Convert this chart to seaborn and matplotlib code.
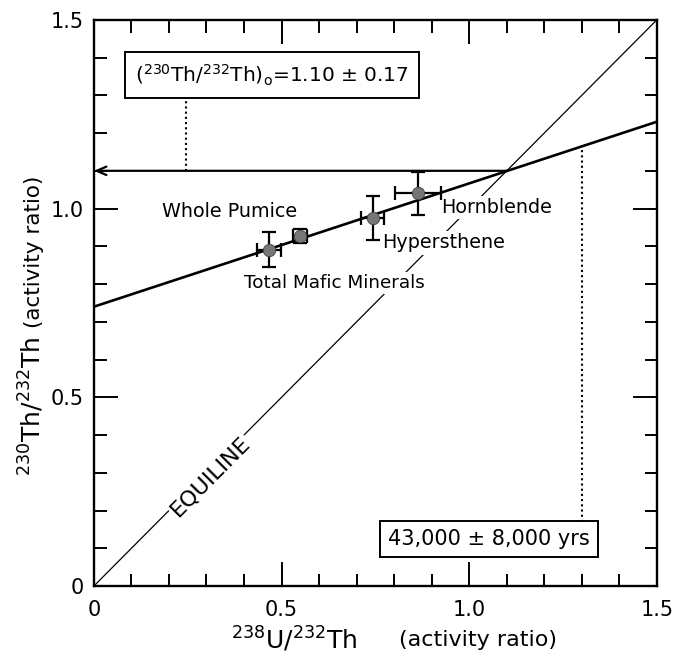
import matplotlib
matplotlib.use("Agg")
import matplotlib.pyplot as plt
import seaborn as sns
import numpy as np
import pandas as pd
from matplotlib.ticker import MultipleLocator, FixedLocator

# --- data -------------------------------------------------------------
samples = ["Total Mafic Minerals", "Whole Pumice", "Hypersthene", "Hornblende"]
u_th = [0.466, 0.549, 0.743, 0.863]          # 238U/232Th
th_th = [0.891, 0.928, 0.976, 1.040]         # 230Th/232Th
u_err = [0.032, 0.018, 0.030, 0.061]
th_err = [0.046, 0.018, 0.058, 0.058]

iso_x = [0.0, 1.5]                 # isochron end points
iso_y = [0.74, 1.23]
equi_x = [0.0, 1.5]                # equiline (230Th/232Th = 238U/232Th)
equi_y = [0.0, 1.5]

initial_ratio = 1.10
initial_err = 0.17
age_text = "43,000 ± 8,000 yrs"
age_x = 1.30

x_ticks = [0.0, 0.5, 1.0, 1.5]
x_ticklabels = ["0", "0.5", "1.0", "1.5"]
y_ticks = [0.0, 0.5, 1.0, 1.5]
y_ticklabels = ["0", "0.5", "1.0", "1.5"]

df = pd.DataFrame({"sample": samples, "u": u_th, "th": th_th,
                   "ue": u_err, "te": th_err})

# --- style --------------------------------------------------------------
sns.set_style("ticks")
plt.rcParams["font.family"] = ["DejaVu Sans"]
plt.rcParams["mathtext.default"] = "regular"
plt.rcParams["text.color"] = "black"
plt.rcParams["xtick.color"] = "black"
plt.rcParams["ytick.color"] = "black"

fig = plt.figure(figsize=(6.8, 6.6), dpi=100)
ax = fig.add_axes([0.138, 0.112, 0.828, 0.858])

# equiline
sns.lineplot(x=equi_x, y=equi_y, ax=ax, color="black", lw=0.9, zorder=1)
# isochron
sns.lineplot(x=iso_x, y=iso_y, ax=ax, color="black", lw=1.9, zorder=4)

# error bars and points
ax.errorbar(df["u"], df["th"], xerr=df["ue"], yerr=df["te"], fmt="none",
            ecolor="black", elinewidth=1.6, capsize=5, capthick=1.6, zorder=5)
sns.scatterplot(data=df, x="u", y="th", ax=ax, s=80, color="#767676",
                edgecolor="#444444", linewidth=0.6, zorder=6, legend=False)

# initial ratio arrow back to the y axis
ax.annotate("", xy=(0.0, initial_ratio), xytext=(initial_ratio, initial_ratio),
            arrowprops=dict(arrowstyle="->,head_length=0.7,head_width=0.3",
                            lw=1.6, color="black", shrinkA=0, shrinkB=0),
            zorder=4)

# sample labels (white boxes break the equiline)
lab_kw = dict(ha="center", va="center", zorder=2,
              bbox=dict(facecolor="white", edgecolor="none", pad=1.5))
ax.text(0.362, 0.991, "Whole Pumice", fontsize=13.8, **lab_kw)
ax.text(0.640, 0.803, "Total Mafic Minerals", fontsize=13.2, **lab_kw)
ax.text(0.933, 0.909, "Hypersthene", fontsize=13.8, **lab_kw)
ax.text(1.074, 1.002, "Hornblende", fontsize=13.8, **lab_kw)

ax.text(0.31, 0.29, "EQUILINE", fontsize=16, rotation=45,
        rotation_mode="anchor", ha="center", va="center", zorder=2,
        transform_rotates_text=True,
        bbox=dict(facecolor="white", edgecolor="none", pad=1.0))

# boxed annotations with dotted leaders
ax.text(0.474, 1.354,
        r"($^{230}$Th/$^{232}$Th)$_{\rm o}$=%.2f ± %.2f" % (initial_ratio, initial_err),
        fontsize=14.5, ha="center", va="center", zorder=7,
        bbox=dict(boxstyle="square,pad=0.5", facecolor="white",
                  edgecolor="black", lw=1.4))
ax.plot([0.245, 0.245], [initial_ratio, 1.297], ls=(0, (1, 1.5)),
        color="black", lw=1.5, zorder=3)

ax.text(1.052, 0.125, age_text, fontsize=15, ha="center", va="center",
        zorder=7, bbox=dict(boxstyle="square,pad=0.4", facecolor="white",
                            edgecolor="black", lw=1.4))
y_age = np.interp(age_x, iso_x, iso_y)
ax.plot([age_x, age_x], [0.17, y_age], ls=(0, (1, 1.5)),
        color="black", lw=1.5, zorder=3)

# axes
ax.set_xlim(0, 1.5)
ax.set_ylim(0, 1.5)
ax.xaxis.set_major_locator(FixedLocator(x_ticks))
ax.yaxis.set_major_locator(FixedLocator(y_ticks))
ax.set_xticklabels(x_ticklabels)
ax.set_yticklabels(y_ticklabels)
ax.xaxis.set_minor_locator(MultipleLocator(0.1))
ax.yaxis.set_minor_locator(MultipleLocator(0.1))
ax.tick_params(which="both", direction="in", top=True, right=True,
               width=1.4, labelsize=15, color="black", labelcolor="black")
ax.tick_params(which="major", length=17)
ax.tick_params(which="minor", length=9)
ax.tick_params(axis="x", which="major", pad=10)
ax.tick_params(axis="y", which="major", pad=7)
for sp in ax.spines.values():
    sp.set_visible(True)
    sp.set_linewidth(1.7)
    sp.set_color("black")
ax.set_xlabel("")
ax.set_ylabel("")

# axis titles
fig.text(294 / 680, 1 - 640 / 660, r"$^{238}$U/$^{232}$Th", fontsize=18,
         ha="center", va="center")
fig.text(478 / 680, 1 - 640 / 660, "(activity ratio)", fontsize=16,
         ha="center", va="center")
fig.text(32 / 680, 1 - 406 / 660, r"$^{230}$Th/$^{232}$Th", fontsize=18,
         ha="center", va="center", rotation=90)
fig.text(34 / 680, 1 - 252 / 660, "(activity ratio)", fontsize=15.5,
         ha="center", va="center", rotation=90)

fig.savefig("out.png", dpi=100)
